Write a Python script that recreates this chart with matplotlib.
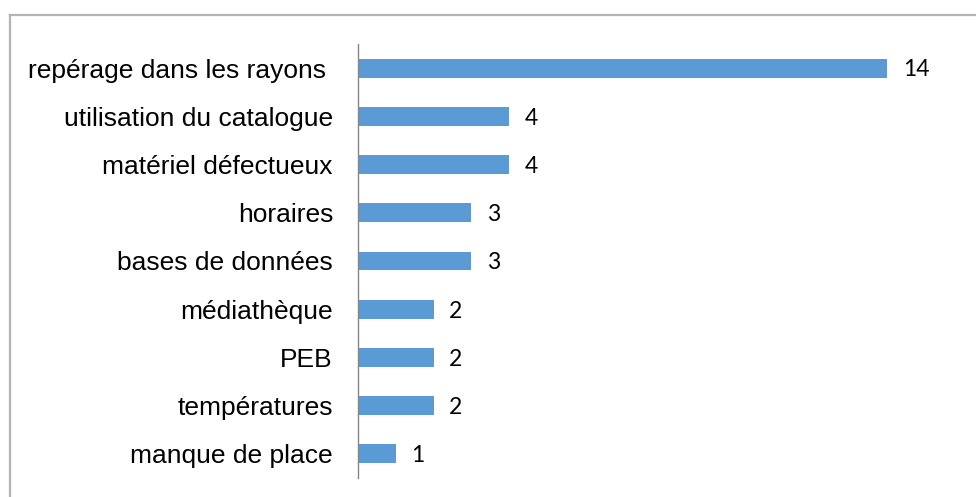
import matplotlib
matplotlib.use("Agg")
import matplotlib.pyplot as plt
from matplotlib.lines import Line2D

categories = ["repérage dans les rayons ", "utilisation du catalogue", "matériel défectueux",
              "horaires", "bases de données", "médiathèque", "PEB", "températures",
              "manque de place"]
values = [14, 4, 4, 3, 3, 2, 2, 2, 1]

W, H = 976, 497
fig = plt.figure(figsize=(W / 100, H / 100), dpi=100)
fig.patch.set_facecolor("white")

ax_left, ax_right = 358, 963
ax_top, ax_bottom = 44, 478
ax = fig.add_axes([ax_left / W, (H - ax_bottom) / H, (ax_right - ax_left) / W, (ax_bottom - ax_top) / H])

ypos = list(range(len(categories)))[::-1]
ax.barh(ypos, values, height=0.39, color="#5B9BD5")
ax.set_xlim(0, 16)
ax.set_ylim(-0.5, len(categories) - 0.5)

ax.set_yticks(ypos)
ax.set_yticklabels(categories, fontfamily="Liberation Sans", fontsize=19, color="black")
ax.tick_params(axis="y", length=0, pad=18)
ax.set_xticks([])

for s in ["top", "right", "bottom"]:
    ax.spines[s].set_visible(False)
ax.spines["left"].set_color("#868686")
ax.spines["left"].set_linewidth(1.0)

for y, v in zip(ypos, values):
    ax.annotate(str(v), xy=(v, y), xytext=(11, -1.3), textcoords="offset points",
                va="center", ha="left", fontfamily="Lato", fontsize=16.5, color="black")

# outer frame
lc = "#B4B4B4"
fig.add_artist(Line2D([10 / W, 1.0], [1 - 15 / H, 1 - 15 / H], transform=fig.transFigure, color=lc, linewidth=1.6))
fig.add_artist(Line2D([10 / W, 10 / W], [0, 1 - 15 / H], transform=fig.transFigure, color=lc, linewidth=1.6))

fig.savefig("out.png", dpi=100)
